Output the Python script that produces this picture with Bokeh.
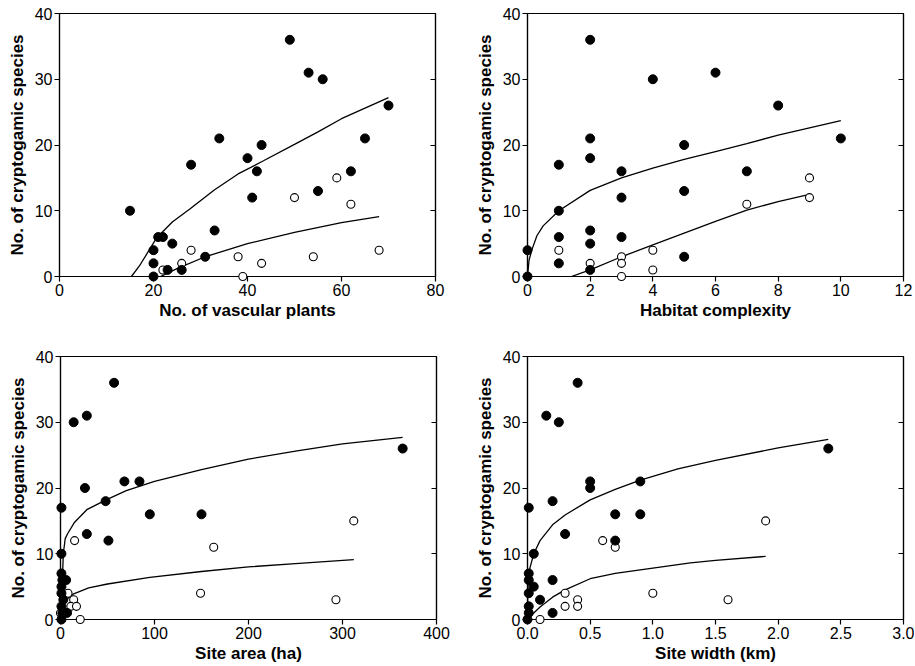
from bokeh.plotting import figure
from bokeh.models import Range1d, FixedTicker, LinearAxis, NumeralTickFormatter, CustomJSTickFormatter
from bokeh.layouts import column, row
from bokeh.embed import file_html
from bokeh.resources import INLINE

# ---------------- data ----------------
# Panel 1: vascular plants
vp_x_f = [15, 49, 53, 56, 70, 34, 65, 43, 40, 28, 42, 62, 55, 41, 33, 21, 22, 24, 20, 31, 20, 23, 26, 20]
vp_y_f = [10, 36, 31, 30, 26, 21, 21, 20, 18, 17, 16, 16, 13, 12, 7, 6, 6, 5, 4, 3, 2, 1, 1, 0]
vp_x_o = [50, 59, 62, 28, 38, 54, 68, 26, 43, 39, 22]
vp_y_o = [12, 15, 11, 4, 3, 3, 4, 2, 2, 0, 1]
vp_fit_f_x = [15.3, 17, 20.7, 24, 27.8, 33, 38, 43.4, 50, 55, 60, 65, 70]
vp_fit_f_y = [0, 1.6, 5.9, 8.3, 10.3, 13.2, 15.6, 17.6, 20.1, 22.0, 24.0, 25.6, 27.2]
vp_fit_o_x = [21.5, 25, 31, 40, 50, 60, 68]
vp_fit_o_y = [0, 1.2, 3.0, 5.0, 6.7, 8.2, 9.1]

# Panel 2: habitat complexity
hc_x_f = [0, 0, 1, 1, 1, 1, 2, 2, 2, 2, 2, 2, 3, 3, 3, 4, 5, 5, 5, 6, 7, 8, 10]
hc_y_f = [4, 0, 17, 10, 6, 2, 36, 21, 18, 7, 5, 1, 16, 12, 6, 30, 20, 13, 3, 31, 16, 26, 21]
hc_x_o = [1, 2, 3, 3, 3, 4, 4, 7, 9, 9]
hc_y_o = [4, 2, 3, 2, 0, 4, 1, 11, 15, 12]
hc_fit_f_x = [0, 0.05, 0.15, 0.3, 0.5, 1, 2, 3, 4, 5, 6, 7, 8, 9, 10]
hc_fit_f_y = [0, 2.5, 4.2, 6.2, 7.7, 10.0, 13.1, 15.0, 16.5, 17.8, 19.0, 20.2, 21.5, 22.6, 23.7]
hc_fit_o_x = [1.4, 2, 3, 4, 5, 6, 7, 8, 9]
hc_fit_o_y = [0, 1.0, 3.0, 4.8, 6.6, 8.4, 10.1, 11.4, 12.5]

# Panel 3: site area (ha)
sa_x_f = [57, 14, 28, 26, 68, 84, 48, 95, 150, 28, 51, 364, 1, 1, 1, 6, 2, 1, 1, 3, 1, 7, 2, 1]
sa_y_f = [36, 30, 31, 20, 21, 21, 18, 16, 16, 13, 12, 26, 17, 10, 7, 6, 6, 5, 4, 3, 2, 1, 1, 0]
sa_x_o = [15, 163, 312, 149, 293, 8, 14, 11, 17, 0, 21]
sa_y_o = [12, 11, 15, 4, 3, 4, 3, 2, 2, 1, 0]
sa_fit_f_x = [1, 2, 3, 5, 7.4, 15, 28, 48.5, 70, 100, 150, 200, 250, 300, 364]
sa_fit_f_y = [2, 6, 10, 12.3, 13, 14.8, 16.7, 18.2, 19.6, 21.0, 22.8, 24.4, 25.6, 26.7, 27.7]
sa_fit_o_x = [1, 3, 5, 14, 30, 50, 95, 150, 200, 250, 312]
sa_fit_o_y = [1.5, 2.5, 2.9, 3.9, 4.8, 5.4, 6.4, 7.3, 8.0, 8.5, 9.1]

# Panel 4: site width (km)
sw_x_f = [0.4, 0.15, 0.25, 2.4, 0.5, 0.5, 0.9, 0.2, 0.01, 0.7, 0.9, 0.3, 0.7, 0.05, 0.01, 0.01, 0.2, 0.05, 0.01, 0.1, 0.01, 0.2, 0.01, 0.0]
sw_y_f = [36, 31, 30, 26, 21, 20, 21, 18, 17, 16, 16, 13, 12, 10, 7, 6, 6, 5, 4, 3, 2, 1, 1, 0]
sw_x_o = [1.9, 0.6, 0.7, 1.0, 1.6, 0.3, 0.4, 0.3, 0.4, 0.1]
sw_y_o = [15, 12, 11, 4, 3, 4, 3, 2, 2, 0]
sw_fit_f_x = [0, 0.002, 0.01, 0.02, 0.05, 0.1, 0.2, 0.3, 0.5, 0.7, 0.9, 1.2, 1.5, 2.0, 2.4]
sw_fit_f_y = [0, 4.3, 6.6, 7.9, 10.0, 12.0, 14.4, 15.9, 18.2, 19.8, 21.2, 22.9, 24.2, 26.1, 27.4]
sw_fit_o_x = [0, 0.05, 0.1, 0.2, 0.3, 0.5, 0.7, 1.0, 1.3, 1.5, 1.9]
sw_fit_o_y = [0, 1.0, 1.9, 3.4, 4.5, 6.2, 7.0, 7.8, 8.6, 9.0, 9.6]

y_ticks = [0, 10, 20, 30, 40]
Y_LABEL = "No. of cryptogamic species"

FONT = "Liberation Sans"


def panel(xmax, xticks, xlabel, xf, yf, xo, yo, fx1, fy1, fx2, fy2,
          width, height, bl, br, bt, bb, xfmt=None):
    p = figure(width=width, height=height, output_backend="svg", toolbar_location=None,
               x_range=Range1d(0, xmax), y_range=Range1d(0, 40),
               min_border_left=bl, min_border_right=br, min_border_top=bt, min_border_bottom=bb)
    p.xgrid.visible = False
    p.ygrid.visible = False
    p.outline_line_color = "black"
    p.outline_line_width = 1.2
    p.background_fill_color = "white"
    p.border_fill_color = "white"

    for ax in (p.xaxis[0], p.yaxis[0]):
        ax.axis_line_color = "black"
        ax.axis_line_width = 1.2
        ax.major_tick_line_color = "black"
        ax.major_tick_line_width = 1.2
        ax.major_tick_in = 0
        ax.major_tick_out = 5
        ax.minor_tick_line_color = None
        ax.major_label_text_font = FONT
        ax.major_label_text_font_size = "16px"
        ax.major_label_text_color = "black"
        ax.major_label_standoff = 2
        ax.axis_label_text_font = FONT
        ax.axis_label_text_font_size = "17px"
        ax.axis_label_text_font_style = "bold"
        ax.axis_label_text_color = "black"
    p.xaxis[0].ticker = FixedTicker(ticks=xticks)
    p.yaxis[0].ticker = FixedTicker(ticks=y_ticks)
    p.xaxis[0].axis_label = xlabel
    p.yaxis[0].axis_label = Y_LABEL
    p.yaxis[0].axis_label_standoff = 5
    p.xaxis[0].axis_label_standoff = 2
    if xfmt:
        p.xaxis[0].formatter = NumeralTickFormatter(format=xfmt)

    rax = LinearAxis(ticker=FixedTicker(ticks=y_ticks[1:-1]),
                     formatter=CustomJSTickFormatter(code="return ''"))
    rax.axis_line_color = "black"
    rax.axis_line_width = 1.2
    rax.major_tick_line_color = "black"
    rax.major_tick_line_width = 1.2
    rax.major_tick_in = 5
    rax.major_tick_out = 0
    rax.minor_tick_line_color = None
    rax.major_label_standoff = 0
    p.add_layout(rax, "right")

    p.line(fx1, fy1, line_color="black", line_width=1.3)
    p.line(fx2, fy2, line_color="black", line_width=1.3)
    p.scatter(xo, yo, marker="circle", size=8, fill_color="white", line_color="black",
              line_width=1.1, level="overlay")
    p.scatter(xf, yf, marker="circle", size=9, fill_color="black", line_color="black",
              level="overlay")
    return p


p1 = panel(80, [0, 20, 40, 60, 80], "No. of vascular plants",
           vp_x_f, vp_y_f, vp_x_o, vp_y_o, vp_fit_f_x, vp_fit_f_y, vp_fit_o_x, vp_fit_o_y,
           width=467, height=326, bl=59, br=32, bt=13, bb=50)
p2 = panel(12, [0, 2, 4, 6, 8, 10, 12], "Habitat complexity",
           hc_x_f, hc_y_f, hc_x_o, hc_y_o, hc_fit_f_x, hc_fit_f_y, hc_fit_o_x, hc_fit_o_y,
           width=447, height=326, bl=60, br=11, bt=13, bb=50)
p3 = panel(400, [0, 100, 200, 300, 400], "Site area (ha)",
           sa_x_f, sa_y_f, sa_x_o, sa_y_o, sa_fit_f_x, sa_fit_f_y, sa_fit_o_x, sa_fit_o_y,
           width=467, height=340, bl=60, br=31, bt=30, bb=47)
p4 = panel(3, [0, 0.5, 1.0, 1.5, 2.0, 2.5, 3.0], "Site width (km)",
           sw_x_f, sw_y_f, sw_x_o, sw_y_o, sw_fit_f_x, sw_fit_f_y, sw_fit_o_x, sw_fit_o_y,
           width=447, height=340, bl=60, br=11, bt=30, bb=47, xfmt="0.0")

layout = column(row(p1, p2), row(p3, p4))
open("out.html", "w").write(file_html(layout, INLINE))
